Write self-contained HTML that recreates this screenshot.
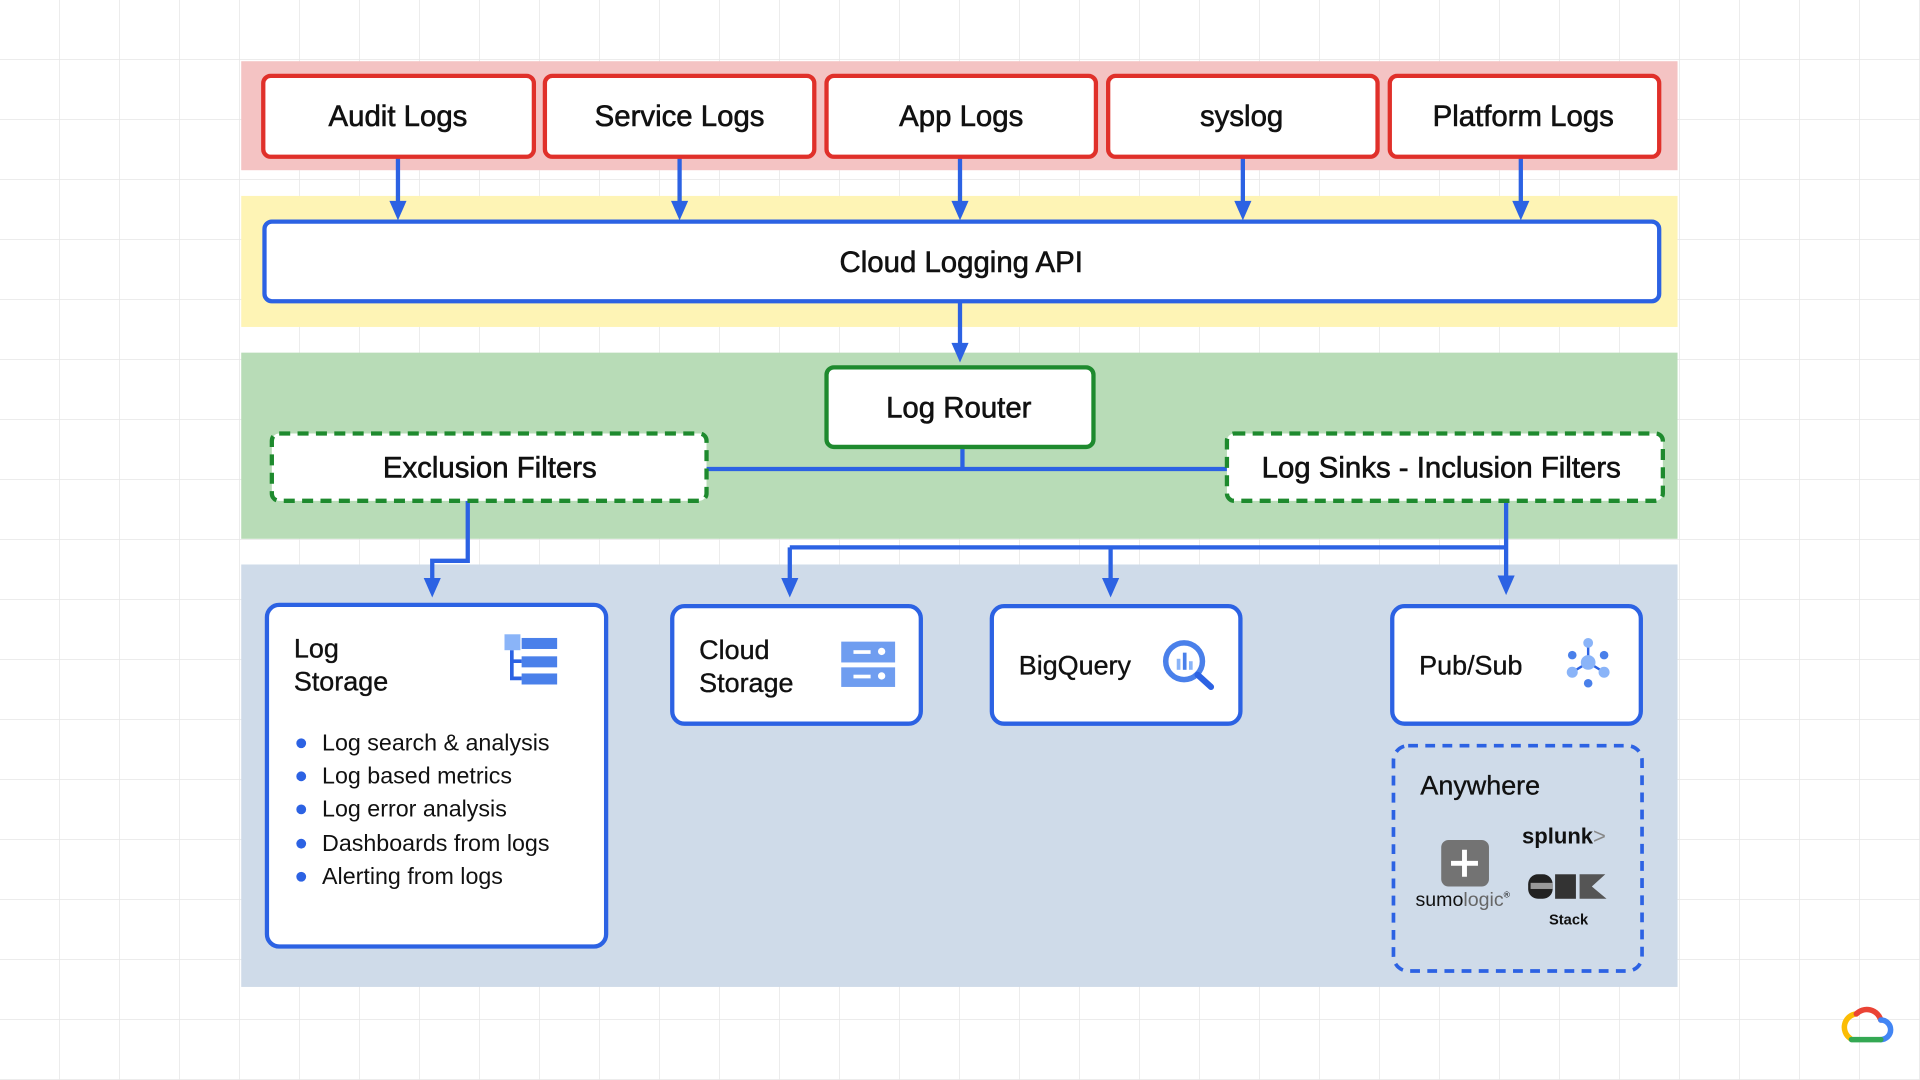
<!DOCTYPE html>
<html><head><meta charset="utf-8"><style>
html,body{margin:0;padding:0;background:#fff;overflow:hidden}
svg{display:block}
text{font-family:"Liberation Sans",sans-serif;fill:#111}
</style></head><body>
<svg width="1920" height="1080" viewBox="0 0 1568 882" xmlns="http://www.w3.org/2000/svg">
<defs>
<pattern id="g" width="49" height="49" patternUnits="userSpaceOnUse">
<path d="M49 0V49H0" fill="none" stroke="#e6e6e6" stroke-width="1.2"/>
</pattern>
<marker id="a" markerWidth="8" markerHeight="8" refX="4" refY="7" orient="auto" markerUnits="userSpaceOnUse" viewBox="0 0 8 8">
</marker>
</defs>
<rect width="1568" height="882" fill="#fff"/>
<rect width="1568" height="882" fill="url(#g)"/>
<!-- bands -->
<rect x="197" y="50" width="1173" height="89" fill="#f4c3c3"/>
<rect x="197" y="160" width="1173" height="107" fill="#fef4b5"/>
<rect x="197" y="288" width="1173" height="152" fill="#b8dcb7"/>
<rect x="197" y="461" width="1173" height="345" fill="#cfdbe9"/>

<g stroke="#2c62e3" stroke-width="3.5" fill="none">
<path d="M325 128V168M555 128V168M784 128V168M1015 128V168M1242 128V168"/>
<path d="M784 246V284"/>
<path d="M577 383H1002M786 365V383"/>
<path d="M382 409V458H353V476"/>
<path d="M1230 409V474M645 447H1230M645 447V474M907 447V474"/>
</g>
<g fill="#2c62e3">
<path d="M318 164h14l-7 16z"/><path d="M548 164h14l-7 16z"/><path d="M777 164h14l-7 16z"/><path d="M1008 164h14l-7 16z"/><path d="M1235 164h14l-7 16z"/>
<path d="M777 280h14l-7 16z"/>
<path d="M346 472h14l-7 16z"/><path d="M638 472h14l-7 16z"/><path d="M900 472h14l-7 16z"/><path d="M1223 470h14l-7 16z"/>
</g>

<!-- red boxes -->
<g fill="#fff" stroke="#e0302a" stroke-width="3.5">
<rect x="215" y="62" width="221" height="66" rx="6"/>
<rect x="445" y="62" width="220" height="66" rx="6"/>
<rect x="675" y="62" width="220" height="66" rx="6"/>
<rect x="905" y="62" width="220" height="66" rx="6"/>
<rect x="1135" y="62" width="220" height="66" rx="6"/>
</g>
<g font-size="24" text-anchor="middle" style="font-weight:500" stroke="#111" stroke-width="0.5">
<text x="325" y="103">Audit Logs</text>
<text x="555" y="103">Service Logs</text>
<text x="785" y="103">App Logs</text>
<text x="1014" y="103">syslog</text>
<text x="1244" y="103">Platform Logs</text>
</g>

<rect x="216" y="181" width="1139" height="65" rx="6" fill="#fff" stroke="#2c62e3" stroke-width="3.5"/>
<text x="785" y="222" font-size="24" text-anchor="middle" stroke="#111" stroke-width="0.5">Cloud Logging API</text>

<rect x="675" y="300" width="218" height="65" rx="6" fill="#fff" stroke="#1e8a2e" stroke-width="3.5"/>
<text x="783" y="341" font-size="24" text-anchor="middle" stroke="#111" stroke-width="0.5">Log Router</text>

<g fill="#fff" stroke="#1e8a2e" stroke-width="3.5" stroke-dasharray="9 6">
<rect x="222" y="354" width="355" height="55" rx="6"/>
<rect x="1002" y="354" width="356" height="55" rx="6"/>
</g>
<text x="400" y="390" font-size="24" text-anchor="middle" stroke="#111" stroke-width="0.5">Exclusion Filters</text>
<text x="1177" y="390" font-size="24" text-anchor="middle" stroke="#111" stroke-width="0.5">Log Sinks - Inclusion Filters</text>

<!-- bottom boxes -->
<g fill="#fff" stroke="#2c62e3" stroke-width="3.5">
<rect x="218" y="494" width="277" height="279" rx="10"/>
<rect x="549" y="495" width="203" height="96" rx="10"/>
<rect x="810" y="495" width="203" height="96" rx="10"/>
<rect x="1137" y="495" width="203" height="96" rx="10"/>
</g>
<rect x="1138" y="609" width="203" height="184" rx="12" fill="none" stroke="#2c62e3" stroke-width="3" stroke-dasharray="8 6"/>

<g font-size="22" stroke="#111" stroke-width="0.3">
<text x="240" y="537">Log</text>
<text x="240" y="564">Storage</text>
<text x="571" y="538">Cloud</text>
<text x="571" y="565">Storage</text>
<text x="832" y="551">BigQuery</text>
<text x="1159" y="551">Pub/Sub</text>
<text x="1160" y="649">Anywhere</text>
</g>
<g font-size="19">
<text x="263" y="613">Log search &amp; analysis</text>
<text x="263" y="640">Log based metrics</text>
<text x="263" y="667">Log error analysis</text>
<text x="263" y="695">Dashboards from logs</text>
<text x="263" y="722">Alerting from logs</text>
</g>
<g fill="#2c62e3">
<circle cx="246" cy="607" r="4"/><circle cx="246" cy="634" r="4"/><circle cx="246" cy="661" r="4"/><circle cx="246" cy="689" r="4"/><circle cx="246" cy="716" r="4"/>
</g>

<!-- icons -->
<g>
<rect x="412" y="518" width="13" height="13" fill="#8ab4f8"/>
<rect x="426" y="521" width="29" height="9" fill="#4a80ea"/>
<rect x="426" y="536" width="29" height="9" fill="#4a80ea"/>
<rect x="426" y="550" width="29" height="9" fill="#4a80ea"/>
<path d="M418 531V554H426M418 540H426" stroke="#2c62e3" stroke-width="3" fill="none"/>
</g>
<g>
<rect x="687" y="524" width="44" height="17" fill="#6f9df0"/>
<rect x="687" y="545" width="44" height="16" fill="#6f9df0"/>
<rect x="697" y="531" width="14" height="3" fill="#fff"/><circle cx="720" cy="532" r="3" fill="#fff"/>
<rect x="697" y="551" width="14" height="3" fill="#fff"/><circle cx="720" cy="552" r="3" fill="#fff"/>
</g>
<g>
<circle cx="967" cy="540" r="15" fill="none" stroke="#4a80ea" stroke-width="4.5"/>
<path d="M978 551L989 561" stroke="#2c62e3" stroke-width="5" stroke-linecap="round"/>
<rect x="961" y="538" width="3" height="9" fill="#8ab4f8"/><rect x="966" y="533" width="3" height="14" fill="#4a80ea"/><rect x="971" y="540" width="3" height="7" fill="#8ab4f8"/>
</g>
<g>
<path d="M1297 541L1297 528M1297 541L1284 549M1297 541L1310 549" stroke="#2c62e3" stroke-width="2"/>
<circle cx="1297" cy="541" r="6" fill="#8ab4f8"/>
<circle cx="1297" cy="525" r="4" fill="#8ab4f8"/>
<circle cx="1284" cy="535" r="3.5" fill="#4a80ea"/><circle cx="1310" cy="535" r="3.5" fill="#4a80ea"/>
<circle cx="1284" cy="549" r="4.5" fill="#8ab4f8"/><circle cx="1310" cy="549" r="4.5" fill="#8ab4f8"/>
<circle cx="1297" cy="558" r="3.5" fill="#4a80ea"/>
</g>
<!-- Anywhere logos -->
<rect x="1177" y="686" width="39" height="38" rx="6" fill="#737373"/>
<path d="M1196 694V716M1185 705H1207" stroke="#fff" stroke-width="4"/>
<text x="1156" y="740" font-size="16" fill="#333">sumo<tspan fill="#666">logic</tspan><tspan font-size="7" dy="-7">®</tspan></text>
<text x="1243" y="689" font-size="18" font-weight="bold" fill="#111">splunk<tspan fill="#888" font-weight="normal">&gt;</tspan></text>
<g>
<rect x="1248" y="714" width="20" height="20" rx="8" fill="#222"/>
<rect x="1250" y="721" width="18" height="5" fill="#999"/>
<rect x="1270" y="714" width="17" height="20" fill="#333"/>
<rect x="1270" y="714" width="9" height="14" fill="#fff" opacity="0.0"/>
<path d="M1290 714V734H1312L1300 724L1311 714Z" fill="#555"/>
</g>
<text x="1265" y="755" font-size="12" font-weight="bold" fill="#111">Stack</text>

<!-- google cloud logo -->
<g stroke-width="4.5" fill="none" stroke-linecap="round">
<path d="M1511 848A11 11 0 0 1 1516 828" stroke="#fbbc04"/>
<path d="M1516 828A12 12 0 0 1 1536 833" stroke="#ea4335"/>
<path d="M1536 833A8 8 0 0 1 1536 849" stroke="#4285f4"/>
<path d="M1536 849H1512" stroke="#34a853"/>
</g>
</svg>
</body></html>
